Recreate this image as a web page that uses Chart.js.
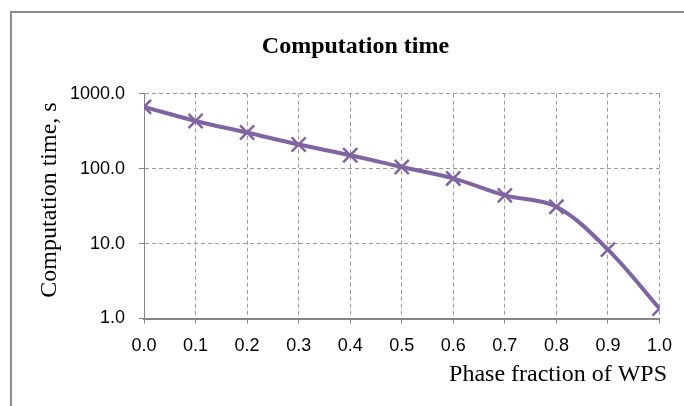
<!DOCTYPE html>
<html lang="en">
<head>
    <meta charset="UTF-8">
    <title>Computation time</title>
    <script src="https://cdn.jsdelivr.net/npm/chart.js"></script>
    <style>
        html, body { margin: 0; padding: 0; background: #fff; overflow: hidden; }
        #wrap { position: relative; width: 684px; height: 406px; }
        /* outer chart frame, only top and left edges are inside the picture */
        #frame {
            position: absolute; left: 10px; top: 11px; width: 800px; height: 500px;
            border-left: 2px solid #8c8c8c; border-top: 2px solid #8c8c8c;
        }
        canvas { position: absolute; left: 0; top: 0; }
    </style>
</head>
<body>
<div id="wrap">
    <div id="frame"></div>
    <canvas id="chart" width="684" height="406"></canvas>
</div>
<script>
    // data
    const phaseFraction = [0.0, 0.1, 0.2, 0.3, 0.4, 0.5, 0.6, 0.7, 0.8, 0.9, 1.0];
    const computationTime = [667, 433, 303, 210, 151, 105, 74, 44, 31, 8.3, 1.36];
    const xTicks = [0.0, 0.1, 0.2, 0.3, 0.4, 0.5, 0.6, 0.7, 0.8, 0.9, 1.0];
    const yTicks = [1, 10, 100, 1000];

    const purple = '#8064A2';
    const tickFont = { family: 'Liberation Sans', size: 18 };

    // axis titles drawn in the Excel positions
    const axisTitles = {
        id: 'axisTitles',
        afterDraw(chart) {
            const ctx = chart.ctx;
            ctx.save();
            ctx.fillStyle = '#000';
            ctx.font = '24px "Liberation Serif"';
            ctx.textBaseline = 'alphabetic';
            ctx.textAlign = 'right';
            ctx.fillText('Phase fraction of WPS', 667, 381);
            ctx.translate(55.5, 200);
            ctx.rotate(-Math.PI / 2);
            ctx.textAlign = 'center';
            ctx.fillText('Computation time, s', 0, 0);
            ctx.restore();
        }
    };

    new Chart(document.getElementById('chart'), {
        type: 'line',
        data: {
            datasets: [{
                label: 'Computation time',
                data: phaseFraction.map((x, i) => ({ x: x, y: computationTime[i] })),
                borderColor: purple,
                borderWidth: 4,
                tension: 0.35,
                pointStyle: 'crossRot',
                pointRadius: 10,
                pointBorderWidth: 2.5,
                pointBorderColor: purple,
                pointBackgroundColor: purple,
                fill: false
            }]
        },
        options: {
            responsive: false,
            animation: false,
            layout: { padding: { left: 50.5, right: 23.5, top: 0, bottom: 0 } },
            plugins: {
                legend: { display: false },
                tooltip: { enabled: false },
                title: {
                    display: true,
                    text: 'Computation time',
                    color: '#000',
                    font: { family: 'Liberation Serif', size: 24, weight: 'bold' },
                    padding: { top: 32.6, bottom: 32.3 }
                }
            },
            scales: {
                x: {
                    type: 'linear',
                    min: 0,
                    max: 1,
                    afterBuildTicks: (scale) => { scale.ticks = xTicks.map(v => ({ value: v })); },
                    afterFit: (scale) => { scale.height = 87.5; },
                    ticks: {
                        color: '#000',
                        font: tickFont,
                        padding: 12,
                        maxRotation: 0,
                        callback: (v) => Number(v).toFixed(1)
                    },
                    grid: {
                        color: '#9a9a9a',
                        tickLength: 5,
                        tickColor: '#868686',
                        tickBorderDash: []
                    },
                    border: { display: true, color: '#868686', width: 2, dash: [4, 3] }
                },
                y: {
                    type: 'logarithmic',
                    min: 1,
                    max: 1000,
                    afterBuildTicks: (scale) => { scale.ticks = yTicks.map(v => ({ value: v })); },
                    afterFit: (scale) => { scale.width = 93.5; },
                    ticks: {
                        color: '#000',
                        font: tickFont,
                        padding: 14,
                        callback: (v) => Number(v).toFixed(1)
                    },
                    grid: {
                        color: '#9a9a9a',
                        tickLength: 5,
                        tickColor: '#868686',
                        tickBorderDash: []
                    },
                    border: { display: true, color: '#868686', width: 1, dash: [4, 3] }
                }
            }
        },
        plugins: [axisTitles]
    });
</script>
</body>
</html>
